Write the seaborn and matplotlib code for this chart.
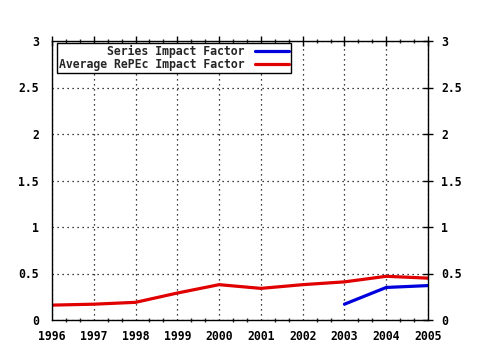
import matplotlib
matplotlib.use("Agg")
import matplotlib.pyplot as plt
import seaborn as sns
import pandas as pd
from matplotlib.ticker import MultipleLocator, FuncFormatter

years_avg = [1996, 1997, 1998, 1999, 2000, 2001, 2002, 2003, 2004, 2005]
avg_values = [0.16, 0.17, 0.19, 0.29, 0.38, 0.34, 0.38, 0.41, 0.47, 0.45]
years_series = [2003, 2004, 2005]
series_values = [0.17, 0.35, 0.37]
label_series = "Series Impact Factor"
label_avg = "Average RePEc Impact Factor"

sns.set_style("white")
plt.rcParams['font.family'] = ['DejaVu Sans Mono']
plt.rcParams['font.weight'] = 'bold'

FS = 8.3

fig = plt.figure(figsize=(4.8, 3.5), dpi=100)
ax = fig.add_axes([52/480, 30/350, 376/480, 279/350])

df_s = pd.DataFrame({"year": years_series, "value": series_values})
df_a = pd.DataFrame({"year": years_avg, "value": avg_values})
sns.lineplot(data=df_s, x="year", y="value", ax=ax, color="#0000dd", linewidth=2.3, label=label_series)
sns.lineplot(data=df_a, x="year", y="value", ax=ax, color="#e00000", linewidth=2.3, label=label_avg)

ax.set_xlim(1996, 2005)
ax.set_ylim(0, 3)
ax.xaxis.set_major_locator(MultipleLocator(1))
ax.xaxis.set_minor_locator(MultipleLocator(1/3))
ax.yaxis.set_major_locator(MultipleLocator(0.5))
ax.yaxis.set_major_formatter(FuncFormatter(lambda v, p: ("%g" % v)))
ax.xaxis.set_major_formatter(FuncFormatter(lambda v, p: "%d" % round(v)))
ax.set_xlabel("")
ax.set_ylabel("")
ax.grid(True, which="major", color="black", linestyle=(0, (1, 3)), linewidth=0.9)
for s in ax.spines.values():
    s.set_color("black")
    s.set_linewidth(1.0)
ax.tick_params(axis="both", which="major", direction="inout", length=7, width=1,
               labelsize=FS, colors="black", top=True, right=True, labelright=True, pad=6)
ax.tick_params(axis="x", which="minor", direction="inout", length=3, width=1, top=True, bottom=True)
ax.tick_params(axis="x", which="major", pad=4)
for t in ax.get_xticklabels() + ax.get_yticklabels():
    t.set_fontweight("bold")

leg = ax.legend(loc="upper left", bbox_to_anchor=(57/480, 1 - 43/350), bbox_transform=fig.transFigure,
                markerfirst=False, frameon=True, fancybox=False,
                framealpha=1, edgecolor="black", fontsize=FS, borderaxespad=0,
                handlelength=3.0, handletextpad=0.9, labelspacing=0.05, borderpad=0.15)
leg.get_frame().set_linewidth(1.0)
for t in leg.get_texts():
    t.set_fontweight("bold")

fig.savefig("out.png", dpi=100)
